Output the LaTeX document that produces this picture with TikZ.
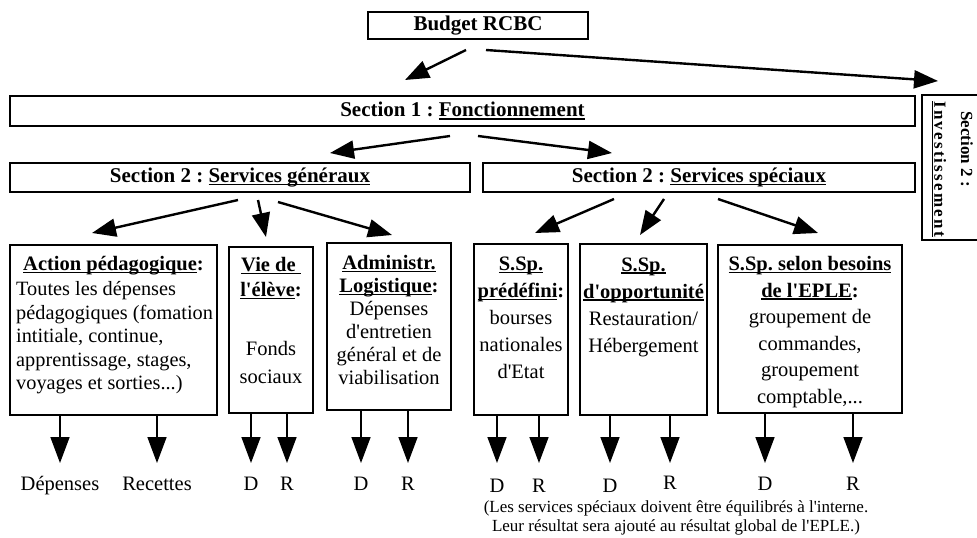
\documentclass[tikz,border=0pt]{standalone}
\usepackage{fontspec}
\setmainfont{Liberation Serif}[Ligatures=TeXOff]
\usetikzlibrary{arrows.meta}
\frenchspacing
\newsavebox\ulbox
\newcommand\ulx[1]{\sbox\ulbox{#1}\rlap{\rule[-2.6pt]{\wd\ulbox}{1.3pt}}\usebox\ulbox}
\begin{document}
\begin{tikzpicture}[x=1pt,y=-1pt,
  box/.style={draw, line width=2.4pt, inner sep=0pt, outer sep=0pt},
  hd/.style={font=\fontsize{21}{24}\selectfont\bfseries},
  tx/.style={inner sep=0pt, align=center, font=\fontsize{20.5}{24}\selectfont},
  fat/.style={line width=2.4pt, -{Triangle[length=24pt,width=18pt]}},
  thin/.style={line width=1.6pt, -{Triangle[length=26pt,width=19pt]}},
  lbl/.style={inner sep=0pt, anchor=base, font=\fontsize{20.5}{24}\selectfont},
]
\useasboundingbox (0,0) rectangle (977,538);

% top level
\node[box, minimum width=220, minimum height=27, hd] (budget) at (478,25.5) {Budget RCBC};
\node[box, minimum width=905, minimum height=30, hd] (sec1) at (462.5,111) {Section 1 : \ulx{Fonctionnement}};
\node[box, anchor=north west, minimum width=70, minimum height=145] (invest) at (922,95) {};
\node[tx, rotate=-90, font=\fontsize{17}{18}\selectfont\bfseries] (inv1) at (967,149) {Section 2 :};
\node[tx, rotate=-90, font=\fontsize{17}{18}\selectfont\bfseries] (inv2) at (939,169) {\addfontfeature{LetterSpace=13}\ulx{Investissement}};

% section 2
\node[box, minimum width=460, minimum height=29, hd] (gen) at (240,177.5) {Section 2 : \ulx{Services généraux}};
\node[box, minimum width=432, minimum height=29, hd] (spe) at (699,177.5) {Section 2 : \ulx{Services spéciaux}};

% lower boxes
\node[box, minimum width=207, minimum height=170] (action) at (113.5,330) {};
\node[box, minimum width=84, minimum height=166] (vie) at (271,330) {};
\node[box, minimum width=124, minimum height=167] (admin) at (389,326.5) {};
\node[box, minimum width=94, minimum height=171] (pre) at (521,329.5) {};
\node[box, minimum width=127, minimum height=171] (opp) at (643.5,329.5) {};
\node[box, minimum width=184, minimum height=168] (sel) at (810,329) {};

% box texts
\node[tx, font=\fontsize{20.5}{24}\selectfont\bfseries] (acth) at (113.5,266) {\ulx{Action pédagogique}:};
\node[tx, align=left, anchor=west, font=\fontsize{20.3}{23.5}\selectfont] (actb) at (16,338) {Toutes les dépenses\\pédagogiques (fomation\\intitiale, continue,\\apprentissage, stages,\\voyages et sorties...)};
\node[tx, font=\fontsize{20.5}{25}\selectfont\bfseries] (vieh) at (271,278) {\ulx{Vie de\ }\\\ulx{l'élève}:};
\node[tx, font=\fontsize{20.5}{28}\selectfont] (vieb) at (271,362) {Fonds\\sociaux};
\node[tx, font=\fontsize{20.5}{23}\selectfont] (admt) at (389,320) {\textbf{\ulx{Administr.}}\\\textbf{\ulx{Logistique}:}\\Dépenses\\d'entretien\\général et de\\viabilisation};
\node[tx, font=\fontsize{20.5}{27}\selectfont] (pret) at (521,318) {\textbf{\ulx{S.Sp.}}\\\textbf{\ulx{prédéfini}:}\\bourses\\nationales\\d'Etat};
\node[tx, font=\fontsize{20.5}{27}\selectfont] (oppt) at (643.5,307) {\textbf{\ulx{S.Sp.}}\\\textbf{\ulx{d'opportunité}}\\Restauration/\\Hébergement};
\node[tx, font=\fontsize{20.5}{26.6}\selectfont] (selt) at (810,332) {\textbf{\ulx{S.Sp. selon besoins}}\\\textbf{\ulx{de l'EPLE}:}\\groupement de\\commandes,\\groupement\\comptable,...};

% arrows top
\draw[fat] ([shift={(-12,11)}]budget.south) -- ([shift={(-57.5,-16)}]sec1.north);
\draw[fat] ([shift={(8,11)}]budget.south) -- ([shift={(16,-14)}]invest.north west);
\draw[fat] ([shift={(-12.5,10)}]sec1.south) -- ([shift={(90,-10)}]gen.north);
\draw[fat] ([shift={(15.5,10)}]sec1.south) -- ([shift={(-87,-10)}]spe.north);
\draw[fat] ([shift={(-2,8)}]gen.south) -- ([shift={(-21.5,-12)}]action.north);
\draw[fat] ([shift={(18,8)}]gen.south) -- ([shift={(-5,-10)}]vie.north);
\draw[fat] ([shift={(38,10)}]gen.south) -- ([shift={(3,-8)}]admin.north);
\draw[fat] ([shift={(-85,7)}]spe.south) -- ([shift={(14,-11)}]pre.north);
\draw[fat] ([shift={(-35,7)}]spe.south) -- ([shift={(-3.5,-9)}]opp.north);
\draw[fat] ([shift={(19,7)}]spe.south) -- ([shift={(8,-12)}]sel.north);

% bottom labels
\node[lbl] (l1) at (60,490) {Dépenses};
\node[lbl] (l2) at (157,490) {Recettes};
\node[lbl] (l3) at (251,490) {D};
\node[lbl] (l4) at (287,490) {R};
\node[lbl] (l5) at (361,490) {D};
\node[lbl] (l6) at (408,490) {R};
\node[lbl] (l7) at (497,492) {D};
\node[lbl] (l8) at (539,492) {R};
\node[lbl] (l9) at (610,492) {D};
\node[lbl] (l10) at (670,489) {R};
\node[lbl] (l11) at (765,490) {D};
\node[lbl] (l12) at (853,490) {R};

\draw[thin] (l1.base |- action.south) -- ([shift={(0,-27)}]l1.base);
\draw[thin] (l2.base |- action.south) -- ([shift={(0,-27)}]l2.base);
\draw[thin] (l3.base |- vie.south) -- ([shift={(0,-27)}]l3.base);
\draw[thin] (l4.base |- vie.south) -- ([shift={(0,-27)}]l4.base);
\draw[thin] (l5.base |- admin.south) -- ([shift={(0,-27)}]l5.base);
\draw[thin] (l6.base |- admin.south) -- ([shift={(0,-27)}]l6.base);
\draw[thin] (l7.base |- pre.south) -- ([shift={(0,-29)}]l7.base);
\draw[thin] (l8.base |- pre.south) -- ([shift={(0,-29)}]l8.base);
\draw[thin] (l9.base |- opp.south) -- ([shift={(0,-29)}]l9.base);
\draw[thin] (l10.base |- opp.south) -- ([shift={(0,-26)}]l10.base);
\draw[thin] (l11.base |- sel.south) -- ([shift={(0,-27)}]l11.base);
\draw[thin] (l12.base |- sel.south) -- ([shift={(0,-27)}]l12.base);

\node[tx, font=\fontsize{17}{19}\selectfont] (note) at (676,518) {(Les services spéciaux doivent être équilibrés à l'interne.\\Leur résultat sera ajouté au résultat global de l'EPLE.)};
\end{tikzpicture}
\end{document}
